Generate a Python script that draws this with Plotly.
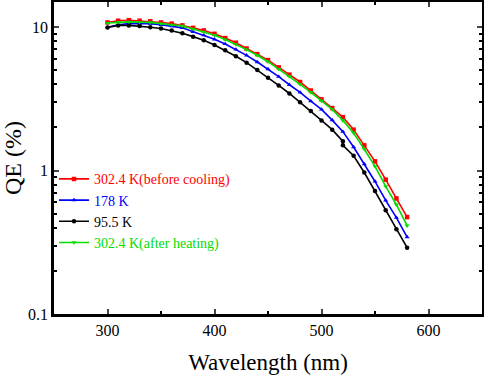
import plotly.graph_objects as go

wavelength = [300, 310, 320, 330, 340, 350, 360, 370, 380, 390, 400, 410, 420, 430, 440,
              450, 460, 470, 480, 490, 500, 510, 520, 530, 540, 550, 560, 570, 580]
wavelength_black = [300, 310, 320, 330, 340, 350, 360, 370, 380, 390, 400, 410, 420, 430, 440,
                    450, 460, 470, 480, 490, 500, 510, 520, 520, 530, 540, 550, 560, 570, 580]

qe_before_cooling = [10.8, 11.1, 11.2, 11.1, 11.0, 10.8, 10.6, 10.3, 9.9, 9.5, 9.0, 8.4, 7.8, 7.1, 6.5,
                     5.9, 5.25, 4.67, 4.15, 3.62, 3.14, 2.73, 2.36, 1.93, 1.50, 1.16, 0.865, 0.64, 0.474]
qe_178 = [10.0, 10.4, 10.6, 10.65, 10.6, 10.4, 10.2, 9.9, 9.3, 8.8, 8.24, 7.65, 7.0, 6.37, 5.72,
          5.11, 4.52, 3.97, 3.51, 3.05, 2.67, 2.25, 1.87, 1.46, 1.11, 0.84, 0.62, 0.47, 0.344]
qe_95 = [9.95, 10.3, 10.3, 10.2, 10.0, 9.8, 9.48, 9.08, 8.6, 8.1, 7.52, 6.9, 6.27, 5.66, 5.03,
         4.45, 3.93, 3.45, 3.0, 2.6, 2.24, 1.93, 1.60, 1.50, 1.27, 0.97, 0.72, 0.53, 0.39, 0.29]
qe_after_heating = [10.7, 10.85, 10.9, 10.85, 10.8, 10.6, 10.4, 10.2, 9.73, 9.27, 8.8, 8.2, 7.6, 6.98, 6.37,
                    5.75, 5.11, 4.54, 4.0, 3.51, 3.07, 2.67, 2.24, 1.83, 1.41, 1.07, 0.777, 0.578, 0.413]

y_ticks = [0.1, 1, 10]
y_ticktext = ["0.1", "1", "10"]
x_ticks = [300, 400, 500, 600]

series = [
    ("302.4 K(before cooling)", wavelength, qe_before_cooling, "#ff0000", "square"),
    ("178 K", wavelength, qe_178, "#0000ff", "triangle-up"),
    ("95.5 K", wavelength_black, qe_95, "#000000", "circle"),
    ("302.4 K(after heating)", wavelength, qe_after_heating, "#00dd00", "triangle-down"),
]

FONT = "Liberation Serif"

fig = go.Figure()
for name, xs, ys, color, sym in series:
    fig.add_trace(go.Scatter(
        x=xs, y=ys, mode="lines+markers",
        name=f"<span style='color:{color}'>{name}</span>",
        line=dict(color=color, width=1.6),
        marker=dict(color=color, symbol=sym, size=4.5),
    ))

minor_y = [v * m for v in (0.1, 1) for m in range(2, 10)]

fig.update_layout(
    width=484, height=375,
    margin=dict(l=54, r=2, t=2, b=61, autoexpand=False),
    paper_bgcolor="white", plot_bgcolor="white",
    font=dict(family=FONT, color="black", size=14),
    showlegend=True,
    legend=dict(x=0.0, y=0.483, xanchor="left", yanchor="top",
                bgcolor="rgba(0,0,0,0)", font=dict(family=FONT, size=14), tracegroupgap=0,
                itemwidth=30, traceorder="normal"),
    xaxis=dict(
        range=[250, 650], tickvals=x_ticks, ticks="inside", ticklen=5, tickwidth=2,
        showline=True, linewidth=2.5, linecolor="black", mirror="allticks",
        showgrid=False, zeroline=False, automargin=False,
        minor=dict(tickvals=[350, 450, 550], ticks="inside", ticklen=3, tickwidth=1.5, tickcolor="black"),
        title=dict(text="Wavelength (nm)", font=dict(family=FONT, size=23), standoff=16),
        tickfont=dict(family=FONT, size=16),
    ),
    yaxis=dict(
        type="log", range=[-1, 1.176], tickvals=y_ticks, ticktext=y_ticktext,
        ticks="inside", ticklen=5, tickwidth=2,
        showline=True, linewidth=2.5, linecolor="black", mirror="allticks",
        showgrid=False, zeroline=False, automargin=False,
        minor=dict(tickvals=minor_y, ticks="inside", ticklen=3, tickwidth=1.5, tickcolor="black"),
        title=dict(text="QE (%)", font=dict(family=FONT, size=24), standoff=8),
        tickfont=dict(family=FONT, size=16),
    ),
)

fig.write_html("out.html", config={"displayModeBar": False},
               post_script="document.body.style.margin='0px';")
